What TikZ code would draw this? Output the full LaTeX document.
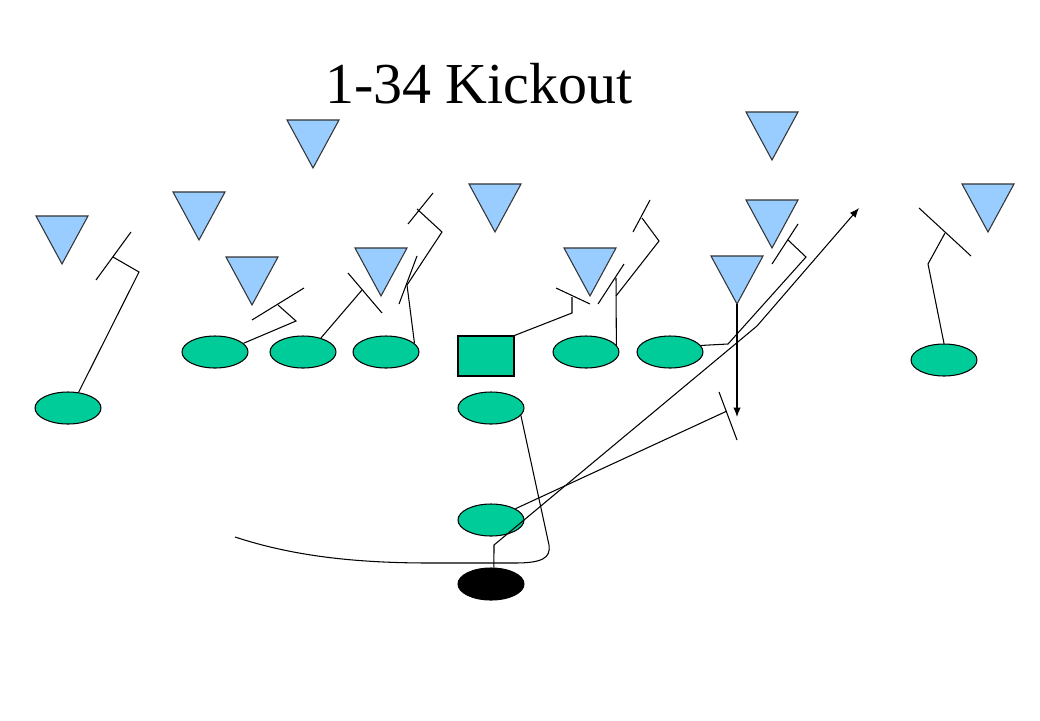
\documentclass[tikz,border=0pt]{standalone}
\usepackage{fontspec}
\setmainfont{Liberation Serif}
\usetikzlibrary{shapes.geometric,arrows.meta}
\definecolor{offgreen}{RGB}{0,204,153}
\definecolor{defblue}{RGB}{153,204,255}
\tikzset{
  player/.style={ellipse, draw=black, fill=offgreen, minimum width=1.32cm, minimum height=0.64cm, inner sep=0pt, line width=0.6pt},
  route/.style={line width=0.6pt},
  defender/.style={draw=black!80, fill=defblue, line width=0.6pt, line join=miter},
  runarrow/.style={line width=0.6pt, -{Latex[length=1.9mm,width=1.5mm]}}
}
\begin{document}
\begin{tikzpicture}[x=0.02cm, y=-0.02cm]
\useasboundingbox (0,0) rectangle (1040,720);

\node[anchor=base, font=\fontsize{33}{40}\selectfont] (title) at (479,103) {1-34 Kickout};

% defense
\foreach \x/\y in {62/216, 313/120, 199/192, 252/257, 381/248, 495/184, 590/248, 772/112, 772/200, 737/256, 988/184}
  \draw[defender] (\x-26,\y) -- (\x+26,\y) -- (\x,\y+48) -- cycle;
\coordinate (dapex) at (737,304);

% offense
\node[player] (se) at (68,408) {};
\node[player] (te) at (215,352) {};
\node[player] (lt) at (303,352) {};
\node[player] (lg) at (386,352) {};
\node[rectangle, draw=black, fill=offgreen, minimum width=1.12cm, minimum height=0.8cm, inner sep=0pt, line width=0.6pt] (c) at (486,356) {};
\node[player] (rg) at (586,352) {};
\node[player] (rt) at (670,352) {};
\node[player] (fl) at (944,360) {};
\node[player] (qb) at (491,408) {};
\node[player] (fb) at (491,520) {};
\node[player, fill=black] (tb) at (491,584) {};

% blocks
\draw[route] (se.56) -- (139,272) -- (113,257); \draw[route] (96,280) -- (131,232); %split end
\draw[route] (te.17) -- (296,321) -- (278,305); \draw[route] (252,320) -- (304,288); %tight end
\draw[route] (lt.38) -- (362,290); \draw[route] (348,273) -- (382,313); %left tackle
\draw[route] (lg.17) -- (407,285) -- (442,232) -- (417,209); %left guard
\draw[route] (399,304) -- (417,256); \draw[route] (408,224) -- (433,193);
\draw[route] (c.north east) -- (572,313) -- (572,297); \draw[route] (556,288) -- (590,304); %center
\draw[route] (rg.13) -- (616,278); \draw[route] (616,296) -- (659,241) -- (642,218); %right guard
\draw[route] (598,304) -- (624,264); \draw[route] (633,232) -- (650,200);
\draw[route] (rt.12) -- (728,344) -- (806,257) -- (788,240); \draw[route] (772,264) -- (798,224); %right tackle
\draw[route] (fl.north) -- (928,264) -- (945,233); \draw[route] (919,208) -- (971,256); %flanker
\coordinate (kick) at (727,411);
\draw[route] (fb) -- (kick); \draw[route] (719,392) -- (737,440); %kickout

% backs
\draw[route] (qb.-14) -- (549,545) .. controls (551,558) and (542,563) .. (515,563) -- (430,563) .. controls (350,563) and (290,555) .. (235,537); %qb fake
\coordinate (hole) at (757,326);
\coordinate (daylight) at (859,208);
\draw[runarrow] (tb.80) -- (494,545) -- (hole) -- (daylight); %ball carrier
\draw[runarrow] (dapex) -- (737,417); %linebacker

\end{tikzpicture}
\end{document}
